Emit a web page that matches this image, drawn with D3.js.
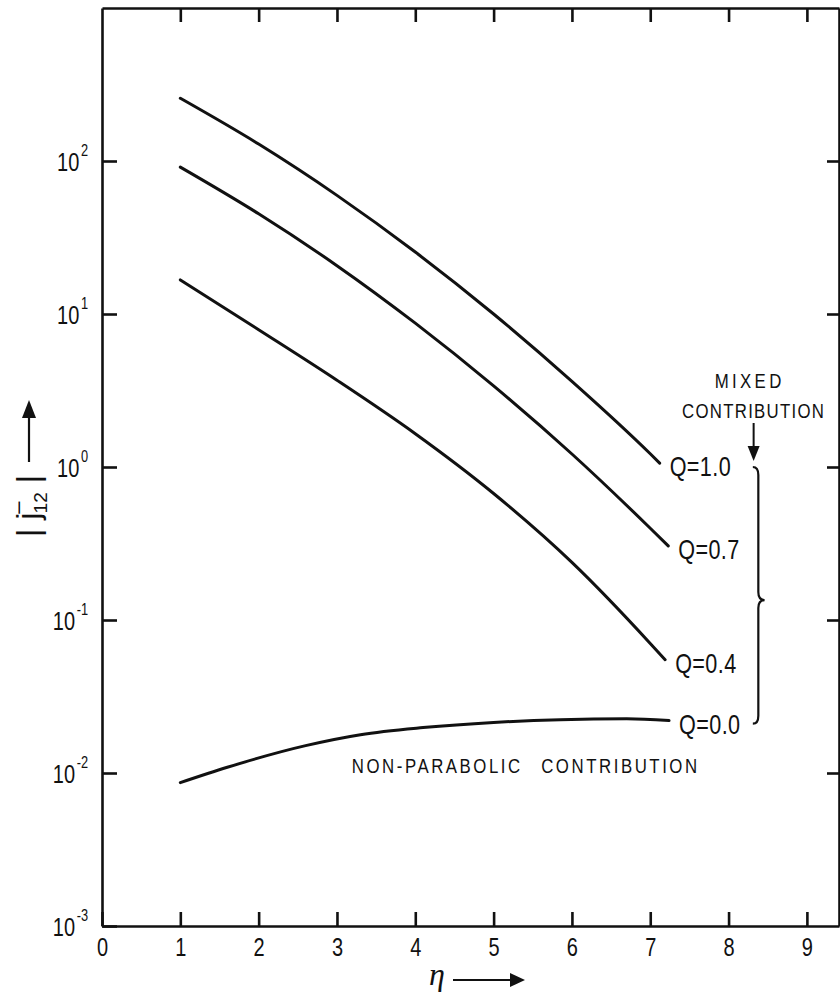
<!DOCTYPE html>
<html>
<head>
<meta charset="utf-8">
<script src="https://cdn.jsdelivr.net/npm/d3@7"></script>
<style>
  body { margin: 0; background: #fff; }
  text { font-family: "Liberation Sans", Arial, sans-serif; fill: #111; }
</style>
</head>
<body>
<div id="chart"></div>
<script>
// data
var qLabels = ["Q=1.0", "Q=0.7", "Q=0.4", "Q=0.0"];
var etaQ10 = [1, 2, 3, 4, 5, 6, 7, 7.12];
var jQ10 = [257, 129, 59.6, 25.4, 10.0, 3.63, 1.22, 1.06];
var etaQ07 = [1, 2, 3, 4, 5, 6, 7, 7.23];
var jQ07 = [91.2, 45.2, 20.7, 8.71, 3.39, 1.216, 0.398, 0.305];
var etaQ04 = [1, 2, 3, 4, 5, 6, 7, 7.19];
var jQ04 = [16.7, 7.89, 3.69, 1.65, 0.671, 0.238, 0.0703, 0.055];
var etaQ00 = [1, 1.6, 2.6, 3.3, 4.1, 5, 5.85, 6.7, 7.24];
var jQ00 = [0.00865, 0.0109, 0.0151, 0.0178, 0.0198, 0.0214, 0.0223, 0.0226, 0.0220];
var xTicks = [0, 1, 2, 3, 4, 5, 6, 7, 8, 9];
var yTicks = [1e-3, 1e-2, 1e-1, 1e0, 1e1, 1e2];
var yExps = ["-3", "-2", "-1", "0", "1", "2"];

var series = [
    { label: qLabels[0], eta: etaQ10, j: jQ10 },
    { label: qLabels[1], eta: etaQ07, j: jQ07 },
    { label: qLabels[2], eta: etaQ04, j: jQ04 },
    { label: qLabels[3], eta: etaQ00, j: jQ00 }
];

var W = 840, H = 998;
var squeeze = 0.8; // the lettering on the original is narrow
var svg = d3.select("#chart").append("svg")
    .attr("width", W)
    .attr("height", H);

// scales
var x = d3.scaleLinear().domain([0, 9.41]).range([102, 839]);
var y = d3.scaleLog().domain([1e-3, 1e3]).range([926, 8]);

// narrow text placed at px,py
function narrowText(px, py) {
    return svg.append("text")
        .attr("transform", "translate(" + px + "," + py + ") scale(" + squeeze + ",1)");
}

//////////
// AXES / FRAME
//////////
var bottom = svg.append("g")
    .attr("transform", "translate(0," + y(1e-3) + ")")
    .call(d3.axisBottom(x).tickValues(xTicks).tickSize(-14).tickSizeOuter(0).tickPadding(12).tickFormat(d3.format("d")));
bottom.selectAll("text")
    .style("font-size", "25px")
    .attr("dy", "0.72em")
    .attr("transform", "scale(" + squeeze + ",1)");

svg.append("g")
    .attr("transform", "translate(0," + y(1e3) + ")")
    .call(d3.axisTop(x).tickValues(xTicks.slice(1)).tickSize(-14).tickSizeOuter(0).tickFormat(""));

var left = svg.append("g")
    .attr("transform", "translate(" + x(0) + ",0)")
    .call(d3.axisLeft(y).tickValues(yTicks).tickSize(-15).tickSizeOuter(0).tickFormat(""));

left.selectAll(".tick").append("text")
    .attr("x", -14 / squeeze)
    .attr("y", 9)
    .attr("text-anchor", "end")
    .attr("transform", "scale(" + squeeze + ",1)")
    .style("font-size", "25px")
    .each(function (d, i) {
        var t = d3.select(this);
        t.append("tspan").text("10");
        t.append("tspan").attr("dx", 2).attr("dy", -15).style("font-size", "16px").text(yExps[i]);
    });

svg.append("g")
    .attr("transform", "translate(" + x(9.41) + ",0)")
    .call(d3.axisRight(y).tickValues(yTicks.slice(1)).tickSize(-12).tickSizeOuter(0).tickFormat(""));

svg.selectAll(".domain, .tick line")
    .attr("stroke", "#111")
    .attr("stroke-width", 2.6);

//////////
// CURVES
//////////
var line = d3.line()
    .x(function (d) { return x(d[0]); })
    .y(function (d) { return y(d[1]); })
    .curve(d3.curveMonotoneX);

svg.selectAll("path.curve")
    .data(series)
    .enter()
    .append("path")
    .attr("class", "curve")
    .attr("fill", "none")
    .attr("stroke", "#111")
    .attr("stroke-width", 3)
    .attr("stroke-linecap", "round")
    .attr("d", function (d) { return line(d.eta.map(function (e, i) { return [e, d.j[i]]; })); });

// Q labels at the line ends
series.forEach(function (d) {
    narrowText(x(d.eta[d.eta.length - 1]) + 10, y(d.j[d.j.length - 1]) + 13)
        .style("font-size", "27px")
        .style("letter-spacing", "0.5px")
        .text(d.label);
});

//////////
// ANNOTATIONS
//////////
narrowText(x(5.41), y(1e-2))
    .attr("text-anchor", "middle")
    .style("font-size", "21px")
    .style("letter-spacing", "3.2px")
    .style("word-spacing", "14px")
    .text("NON-PARABOLIC CONTRIBUTION");

var bx = x(8.32);
narrowText(bx - 4, 388)
    .attr("text-anchor", "middle")
    .style("font-size", "21px")
    .style("letter-spacing", "4.2px")
    .text("MIXED");
narrowText(bx, 418)
    .attr("text-anchor", "middle")
    .style("font-size", "21px")
    .style("letter-spacing", "1.6px")
    .text("CONTRIBUTION");

// little arrow down to the brace
svg.append("line")
    .attr("x1", bx).attr("x2", bx)
    .attr("y1", 423).attr("y2", 450)
    .attr("stroke", "#111").attr("stroke-width", 2);
svg.append("path")
    .attr("d", "M" + (bx - 6) + ",446 L" + (bx + 6) + ",446 L" + bx + ",461 Z")
    .attr("fill", "#111");

// brace from Q=1.0 down to Q=0.0
var bt = y(1.0), bb = y(0.021), bm = y(0.135), bxl = x(8.31), bxv = x(8.38), bxt = x(8.46);
svg.append("path")
    .attr("fill", "none")
    .attr("stroke", "#111")
    .attr("stroke-width", 2.2)
    .attr("d", "M" + bxl + "," + bt + " Q" + bxv + "," + bt + " " + bxv + "," + (bt + 8) +
        " L" + bxv + "," + (bm - 8) + " Q" + bxv + "," + bm + " " + bxt + "," + bm +
        " Q" + bxv + "," + bm + " " + bxv + "," + (bm + 8) +
        " L" + bxv + "," + (bb - 8) + " Q" + bxv + "," + bb + " " + bxl + "," + bb);

// y axis title
var yt = svg.append("text")
    .attr("transform", "translate(39,506) rotate(-90)")
    .attr("text-anchor", "middle")
    .style("font-size", "32px");
yt.append("tspan").text("| j");
yt.append("tspan").attr("dx", -1).attr("dy", -14).style("font-size", "22px").text("–");
yt.append("tspan").attr("dx", -12).attr("dy", 22).style("font-size", "19px").text("12");
yt.append("tspan").attr("dy", -8).text(" |");

svg.append("line")
    .attr("x1", 29).attr("x2", 29).attr("y1", 462).attr("y2", 412)
    .attr("stroke", "#111").attr("stroke-width", 2.2);
svg.append("path")
    .attr("d", "M22,418 L36,418 L29,400 Z")
    .attr("fill", "#111");

// x axis title
svg.append("text")
    .attr("x", 437)
    .attr("y", 985)
    .attr("text-anchor", "middle")
    .style("font-family", "'Liberation Serif', 'DejaVu Serif', serif")
    .style("font-style", "italic")
    .style("font-size", "32px")
    .text("η");
svg.append("line")
    .attr("x1", 453).attr("x2", 512).attr("y1", 980).attr("y2", 980)
    .attr("stroke", "#111").attr("stroke-width", 2);
svg.append("path")
    .attr("d", "M510,973 L510,987 L525,980 Z")
    .attr("fill", "#111");
</script>
</body>
</html>
